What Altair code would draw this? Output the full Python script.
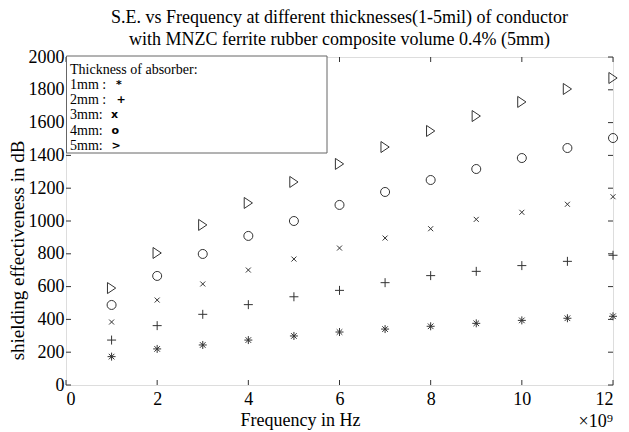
import altair as alt
import pandas as pd

# Frequency in units of 1e9 Hz
freq = [1, 2, 3, 4, 5, 6, 7, 8, 9, 10, 11, 12]
se_1mm = [173, 220, 244, 274, 299, 323, 341, 358, 376, 394, 407, 419]
se_2mm = [274, 362, 431, 490, 538, 577, 624, 667, 693, 728, 754, 791]
se_3mm = [384, 518, 616, 701, 768, 835, 896, 953, 1010, 1053, 1102, 1148]
se_4mm = [488, 665, 799, 909, 1000, 1098, 1177, 1250, 1317, 1384, 1445, 1506]
se_5mm = [591, 805, 976, 1110, 1238, 1348, 1451, 1549, 1640, 1726, 1805, 1872]

series = ["1mm", "2mm", "3mm", "4mm", "5mm"]
x_ticks = [0, 2, 4, 6, 8, 10, 12]
y_ticks = [0, 200, 400, 600, 800, 1000, 1200, 1400, 1600, 1800, 2000]

title_lines = ["S.E. vs  Frequency at different thicknesses(1-5mil) of conductor",
               "with MNZC ferrite rubber composite volume 0.4% (5mm)"]
legend_title = "Thickness of absorber:"
legend_labels = ["1mm :", "2mm :", "3mm:", "4mm:", "5mm:"]
legend_symbols = ["*", "+", "x", "o", ">"]

W, H = 547, 328
SERIF = "Liberation Serif"
INK = "#333333"

rows = []
for name, vals in zip(series, [se_1mm, se_2mm, se_3mm, se_4mm, se_5mm]):
    for f, v in zip(freq, vals):
        rows.append({"freq": f, "se": v, "series": name})
df = pd.DataFrame(rows)
one = pd.DataFrame({"k": [0]})

shape_paths = [
    "M-1,0L1,0M0,-1L0,1M-0.7,-0.7L0.7,0.7M-0.7,0.7L0.7,-0.7",
    "M-1,0L1,0M0,-1L0,1",
    "M-1,-1L1,1M-1,1L1,-1",
    "circle",
    "M-0.75,-1L0.75,0L-0.75,1Z",
]
sizes = [64, 81, 25, 81, 121]

xscale = alt.Scale(domain=[0, 12], nice=False, zero=False)
yscale = alt.Scale(domain=[0, 2000], nice=False, zero=False)
xaxis = alt.Axis(values=x_ticks, ticks=False, domain=False, grid=False, format="d",
                 labelFont=SERIF, labelFontSize=18, labelColor="black",
                 labelPadding=5, labelBaseline="top",
                 title="Frequency in Hz", titleFont=SERIF, titleFontSize=18,
                 titleFontWeight="normal", titleColor="black",
                 titlePadding=3, titleX=234, titleAlign="center")
yaxis = alt.Axis(values=y_ticks, ticks=False, domain=False, grid=False, format="d",
                 labelFont=SERIF, labelFontSize=18, labelColor="black",
                 labelPadding=2, labelBaseline="middle",
                 title="shielding effectiveness in dB", titleFont=SERIF,
                 titleFontSize=19, titleFontWeight="normal", titleColor="black",
                 titlePadding=1, titleY=193, titleAlign="center")

points = alt.Chart(df).mark_point(filled=False, strokeWidth=1, opacity=1).encode(
    x=alt.X("freq:Q", scale=xscale, axis=xaxis),
    y=alt.Y("se:Q", scale=yscale, axis=yaxis),
    shape=alt.Shape("series:N", scale=alt.Scale(domain=series, range=shape_paths), legend=None),
    size=alt.Size("series:N", scale=alt.Scale(type="ordinal", domain=series, range=sizes), legend=None),
    color=alt.value(INK),
)

xt_df = pd.DataFrame({"freq": x_ticks})
yt_df = pd.DataFrame({"se": y_ticks})
tick_len = 5
bottom_ticks = alt.Chart(xt_df).mark_rule(color=INK, strokeWidth=1).encode(
    x=alt.X("freq:Q", scale=xscale, axis=xaxis), y=alt.value(H), y2=alt.value(H - tick_len))
top_ticks = alt.Chart(xt_df).mark_rule(color=INK, strokeWidth=1).encode(
    x=alt.X("freq:Q", scale=xscale, axis=xaxis), y=alt.value(0), y2=alt.value(tick_len))
left_ticks = alt.Chart(yt_df).mark_rule(color=INK, strokeWidth=1).encode(
    y=alt.Y("se:Q", scale=yscale, axis=yaxis), x=alt.value(0), x2=alt.value(tick_len))
right_ticks = alt.Chart(yt_df).mark_rule(color=INK, strokeWidth=1).encode(
    y=alt.Y("se:Q", scale=yscale, axis=yaxis), x=alt.value(W), x2=alt.value(W - tick_len))

legend_box = alt.Chart(one).mark_rect(fill="white", stroke="#666666", strokeWidth=1).encode(
    x=alt.value(0.5), x2=alt.value(261), y=alt.value(-1), y2=alt.value(96))

layers = [points, bottom_ticks, top_ticks, left_ticks, right_ticks, legend_box]

layers.append(alt.Chart(one).mark_text(text=legend_title, font=SERIF, fontSize=14, align="left",
                                       baseline="middle", color="black").encode(
    x=alt.value(4), y=alt.value(13)))
sym_x = [50, 50.5, 45, 45.5, 45.5]
for i, (lab, sym) in enumerate(zip(legend_labels, legend_symbols)):
    yy = 27.5 + i * 15.4
    layers.append(alt.Chart(one).mark_text(text=lab, font=SERIF, fontSize=14, align="left",
                                           baseline="middle", color="black").encode(
        x=alt.value(4), y=alt.value(yy)))
    layers.append(alt.Chart(one).mark_text(text=sym, font="DejaVu Sans", fontSize=11,
                                           fontWeight="bold", align="left", baseline="middle",
                                           color="black").encode(
        x=alt.value(sym_x[i]), y=alt.value(yy)))

layers.append(alt.Chart(one).mark_text(text="×10⁹", font=SERIF, fontSize=18, align="right",
                                       baseline="middle", color="black").encode(
    x=alt.value(W), y=alt.value(365)))

chart = alt.layer(*layers).properties(
    width=W, height=H,
    autosize="none",
    padding={"left": 58, "top": 49, "right": 8, "bottom": 47},
    title=alt.TitleParams(title_lines, font=SERIF, fontSize=18, fontWeight="normal",
                          color="black", anchor="middle", lineHeight=22, offset=-1,
                          frame="group"),
).configure_view(stroke=INK, strokeWidth=1).configure(background="white")

chart.save("out.html", embed_options={"renderer": "svg", "actions": False})
